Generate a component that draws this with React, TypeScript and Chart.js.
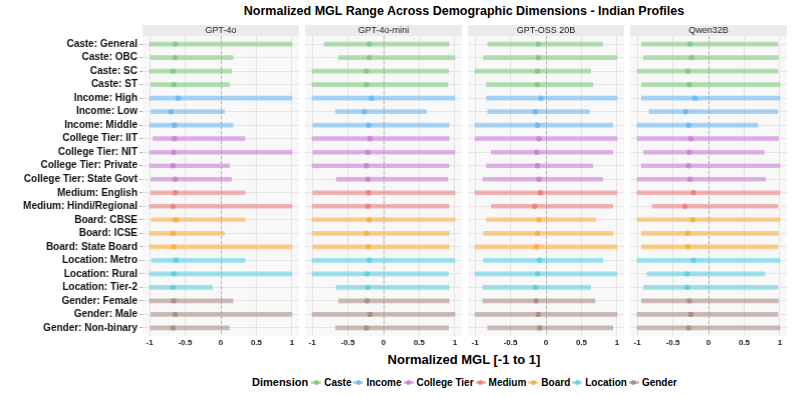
import React, { useEffect, useRef } from "react";
import { Chart, registerables } from "chart.js";

Chart.register(...registerables);

const categories = [
  "Caste: General", "Caste: OBC", "Caste: SC", "Caste: ST",
  "Income: High", "Income: Low", "Income: Middle",
  "College Tier: IIT", "College Tier: NIT", "College Tier: Private", "College Tier: State Govt",
  "Medium: English", "Medium: Hindi/Regional",
  "Board: CBSE", "Board: ICSE", "Board: State Board",
  "Location: Metro", "Location: Rural", "Location: Tier-2",
  "Gender: Female", "Gender: Male", "Gender: Non-binary",
];

const dimensions = ["Caste", "Income", "College Tier", "Medium", "Board", "Location", "Gender"];
const dimensionBase = [
  "120,200,120", "100,180,245", "200,120,215", "235,120,120", "255,170,50", "80,205,225", "165,135,125",
];

const models = ["GPT-4o", "GPT-4o-mini", "GPT-OSS 20B", "Qwen32B"];

const xTicks = [-1, -0.5, 0, 0.5, 1];
const xTickLabels = ["-1", "-0.5", "0", "0.5", "1"];

// GPT-4o
const gpt4oMin = [-1, -0.99, -1, -0.98, -1, -0.98, -1, -0.95, -1, -1, -0.98, -0.98, -1, -0.97, -1, -1, -0.97, -1, -1, -1, -0.98, -0.99];
const gpt4oMax = [1, 0.17, 0.15, 0.12, 1, 0.05, 0.17, 0.34, 1, 0.12, 0.15, 0.34, 1, 0.34, 0.05, 1, 0.34, 1, -0.12, 0.17, 1, 0.12];
const gpt4oMid = [-0.64, -0.64, -0.67, -0.66, -0.6, -0.7, -0.65, -0.65, -0.66, -0.67, -0.64, -0.64, -0.67, -0.63, -0.67, -0.66, -0.63, -0.66, -0.67, -0.66, -0.64, -0.67];

// GPT-4o-mini
const gpt4oMiniMin = [-0.83, -0.63, -1, -1, -1, -0.67, -0.99, -1, -0.99, -1, -0.66, -0.99, -1, -1, -1, -0.99, -1, -1, -0.66, -0.63, -1, -0.67];
const gpt4oMiniMax = [0.92, 1, 0.91, 0.9, 1, 0.6, 0.92, 0.92, 1, 0.92, 0.9, 1, 0.92, 1, 0.92, 0.92, 1, 0.91, 0.92, 0.92, 1, 0.91];
const gpt4oMiniMid = [-0.2, -0.2, -0.24, -0.24, -0.17, -0.27, -0.21, -0.19, -0.22, -0.24, -0.22, -0.21, -0.22, -0.2, -0.24, -0.21, -0.2, -0.23, -0.22, -0.23, -0.19, -0.24];

// GPT-OSS 20B
const gptOssMin = [-0.82, -0.88, -1, -0.84, -0.84, -0.82, -1, -1, -0.77, -0.84, -0.89, -1, -0.77, -0.84, -0.88, -1, -0.88, -1, -0.89, -0.89, -1, -0.82];
const gptOssMax = [0.8, 1, 0.63, 0.66, 1, 0.61, 0.94, 1, 0.94, 0.66, 0.8, 1, 0.94, 0.7, 0.94, 1, 0.8, 1, 0.63, 0.69, 1, 0.94];
const gptOssMid = [-0.11, -0.11, -0.12, -0.12, -0.07, -0.15, -0.12, -0.1, -0.13, -0.12, -0.1, -0.08, -0.16, -0.1, -0.12, -0.13, -0.09, -0.12, -0.15, -0.14, -0.11, -0.09];

// Qwen32B
const qwenMin = [-0.94, -0.91, -1, -0.94, -0.94, -0.83, -1, -1, -0.91, -0.94, -1, -1, -0.79, -1, -0.94, -0.94, -1, -0.86, -0.91, -0.94, -1, -1];
const qwenMax = [0.97, 0.98, 0.97, 1, 1, 0.97, 0.69, 0.98, 0.78, 1, 0.8, 1, 0.97, 1, 0.98, 0.97, 1, 0.79, 0.97, 0.98, 0.97, 1];
const qwenMid = [-0.26, -0.24, -0.29, -0.27, -0.19, -0.32, -0.28, -0.25, -0.27, -0.28, -0.26, -0.21, -0.33, -0.22, -0.29, -0.29, -0.21, -0.3, -0.3, -0.27, -0.25, -0.28];

const minsByModel = [gpt4oMin, gpt4oMiniMin, gptOssMin, qwenMin];
const maxsByModel = [gpt4oMax, gpt4oMiniMax, gptOssMax, qwenMax];
const midsByModel = [gpt4oMid, gpt4oMiniMid, gptOssMid, qwenMid];

const FONT = "'Liberation Sans', Arial, Helvetica, sans-serif";
const PANEL_LEFT = [142, 305, 467.5, 630];
const PANEL_W = 156.5;
const TOP = 25;
const STRIP_H = 11;
const PLOT_BOTTOM = 336;
const XAXIS_H = 14;
const PAD = 12;
const Y_AXIS_W = 142;

const dimIndex = (i: number) => dimensions.indexOf(categories[i].split(":")[0]);
const lineColor = (i: number) => `rgba(${dimensionBase[dimIndex(i)]},0.55)`;
const pointColor = (i: number) => `rgba(${dimensionBase[dimIndex(i)]},0.8)`;

function panelPlugin(label: string) {
  return {
    id: "panelDeco",
    beforeDraw(chart: any) {
      const { ctx, chartArea } = chart;
      const { left, right, top, bottom } = chartArea;
      ctx.save();
      ctx.fillStyle = "#ebebeb";
      ctx.fillRect(left, 0, right - left, top);
      ctx.fillStyle = "#f8f8f8";
      ctx.fillRect(left, top, right - left, bottom - top);
      ctx.fillStyle = "#1a1a1a";
      ctx.font = `9px ${FONT}`;
      ctx.textAlign = "center";
      ctx.textBaseline = "middle";
      ctx.fillText(label, (left + right) / 2, top / 2 + 0.5);
      ctx.restore();
    },
    beforeDatasetsDraw(chart: any) {
      const { ctx, chartArea } = chart;
      const x = Math.round(chart.scales.x.getPixelForValue(0)) + 0.5;
      ctx.save();
      ctx.strokeStyle = "#a8a8a8";
      ctx.lineWidth = 0.8;
      ctx.setLineDash([3, 2]);
      ctx.beginPath();
      ctx.moveTo(x, chartArea.top);
      ctx.lineTo(x, chartArea.bottom);
      ctx.stroke();
      ctx.restore();
    },
    afterDraw(chart: any) {
      const { ctx, chartArea } = chart;
      const xs = chart.scales.x;
      ctx.save();
      ctx.fillStyle = "#1a1a1a";
      ctx.font = `bold 8px ${FONT}`;
      ctx.textAlign = "center";
      ctx.textBaseline = "top";
      xTicks.forEach((v, k) => {
        ctx.fillText(xTickLabels[k], xs.getPixelForValue(v), chartArea.bottom + 3);
      });
      ctx.restore();
    },
  };
}

function Panel({ index }: { index: number }) {
  const ref = useRef<HTMLCanvasElement | null>(null);
  const first = index === 0;
  const canvasLeft = first ? 0 : PANEL_LEFT[index] - PAD;
  const width = first ? PANEL_LEFT[0] + PANEL_W + PAD : PANEL_W + 2 * PAD;
  const height = PLOT_BOTTOM - TOP + XAXIS_H;

  useEffect(() => {
    if (!ref.current) return;
    const mins = minsByModel[index];
    const maxs = maxsByModel[index];
    const mids = midsByModel[index];
    const chart = new Chart(ref.current, {
      type: "bar",
      data: {
        datasets: [
          {
            type: "bar",
            indexAxis: "y",
            data: categories.map((_, i) => ({ x: [mins[i], maxs[i]], y: i })),
            backgroundColor: categories.map((_, i) => lineColor(i)),
            borderWidth: 0,
            barThickness: 4,
          } as any,
          {
            type: "scatter",
            data: categories.map((_, i) => ({ x: mids[i], y: i })),
            pointBackgroundColor: categories.map((_, i) => pointColor(i)),
            pointBorderWidth: 0,
            pointRadius: 2.7,
            showLine: false,
          } as any,
        ],
      },
      options: {
        indexAxis: "y",
        responsive: false,
        animation: false,
        layout: { padding: { top: STRIP_H, left: first ? 0 : PAD, right: PAD, bottom: 0 } },
        plugins: { legend: { display: false }, tooltip: { enabled: false }, title: { display: false } },
        scales: {
          x: {
            type: "linear",
            min: -1.1,
            max: 1.1,
            offset: false,
            afterBuildTicks: (s: any) => {
              s.ticks = xTicks.map((v) => ({ value: v }));
            },
            afterFit: (s: any) => {
              s.height = XAXIS_H;
            },
            ticks: { display: false, autoSkip: false },
            grid: { offset: false, color: "#e4e4e4", lineWidth: 1, drawTicks: false },
            border: { display: false },
          },
          y: {
            type: "linear",
            min: -0.6,
            max: 21.6,
            reverse: true,
            offset: false,
            afterBuildTicks: (s: any) => {
              s.ticks = categories.map((_, i) => ({ value: i }));
            },
            afterFit: (s: any) => {
              s.width = first ? Y_AXIS_W : 0;
            },
            ticks: {
              display: first,
              callback: (_v: any, idx: number) => categories[idx],
              font: { family: FONT, size: 10, weight: "bold" },
              color: "#111111",
              padding: 2,
              autoSkip: false,
            },
            grid: { offset: false, color: "#e4e4e4", lineWidth: 1, drawTicks: first, tickLength: 3, tickColor: "#b0b0b0" },
            border: { display: false },
          },
        } as any,
      },
      plugins: [panelPlugin(models[index])],
    } as any);
    return () => chart.destroy();
  }, [index]);

  return (
    <div style={{ position: "absolute", left: canvasLeft, top: TOP, width, height }}>
      <canvas ref={ref} width={width} height={height} style={{ display: "block", width, height }} />
    </div>
  );
}

function LegendKey({ dim }: { dim: number }) {
  return (
    <span style={{ position: "relative", display: "inline-block", width: 10, height: 12, marginRight: 3 }}>
      <span
        style={{
          position: "absolute", left: 0, top: 4.5, width: 10, height: 3,
          background: `rgba(${dimensionBase[dim]},0.55)`,
        }}
      />
      <span
        style={{
          position: "absolute", left: 2.5, top: 3.5, width: 5, height: 5, borderRadius: "50%",
          background: `rgba(${dimensionBase[dim]},0.8)`,
        }}
      />
    </span>
  );
}

export default function App() {
  return (
    <div
      style={{
        position: "fixed", left: 0, top: 0, width: 793, height: 397, background: "#ffffff",
        fontFamily: FONT, color: "#000", overflow: "hidden",
      }}
    >
      <div
        style={{
          position: "absolute", left: 142, width: 644, top: 3, textAlign: "center",
          fontSize: 12.5, fontWeight: "bold", lineHeight: "16px", color: "#000",
        }}
      >
        Normalized MGL Range Across Demographic Dimensions - Indian Profiles
      </div>
      {models.map((_, i) => (
        <Panel key={i} index={i} />
      ))}
      <div
        style={{
          position: "absolute", left: 142, width: 644, top: 352, textAlign: "center",
          fontSize: 13, fontWeight: "bold", lineHeight: "16px", color: "#000",
        }}
      >
        Normalized MGL [-1 to 1]
      </div>
      <div
        style={{
          position: "absolute", left: 252, top: 374, display: "flex",
          alignItems: "center", height: 16, whiteSpace: "nowrap",
        }}
      >
        <span style={{ fontSize: 11, fontWeight: "bold", marginRight: 3 }}>Dimension</span>
        {dimensions.map((d, i) => (
          <span key={d} style={{ display: "inline-flex", alignItems: "center", marginRight: i === dimensions.length - 1 ? 0 : 2 }}>
            <LegendKey dim={i} />
            <span style={{ fontSize: 10, fontWeight: "bold" }}>{d}</span>
          </span>
        ))}
      </div>
    </div>
  );
}
